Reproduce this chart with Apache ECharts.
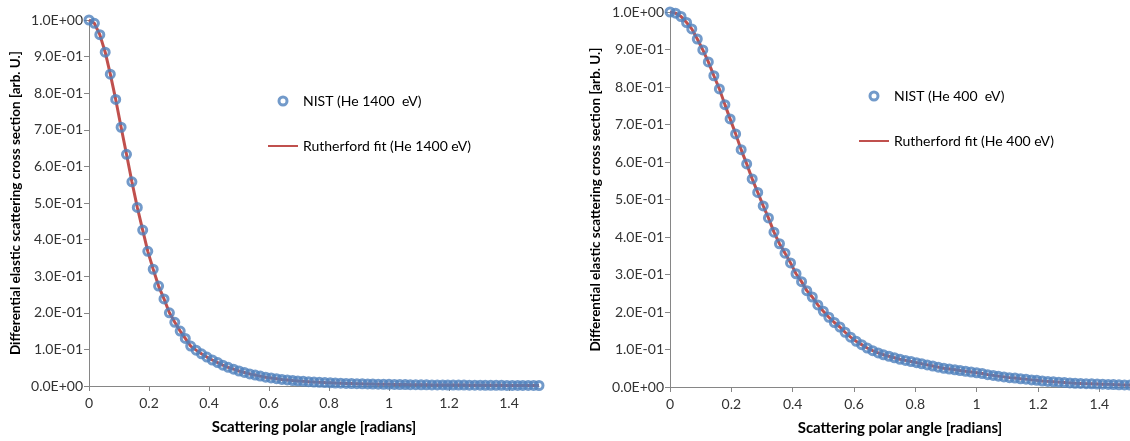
<!DOCTYPE html>
<html>
<head>
<meta charset="utf-8">
<script src="https://cdn.jsdelivr.net/npm/echarts@6/dist/echarts.min.js"></script>
<style>
html,body{margin:0;padding:0;background:#fff;}
#chart{width:1130px;height:441px;}
</style>
</head>
<body>
<div id="chart"></div>
<script>
// Scattering polar angle of each sample point [radians]
const angleRad = [0,0.018,0.036,0.054,0.071,0.089,0.107,0.125,0.143,0.161,0.179,0.196,0.214,0.232,
  0.25,0.268,0.286,0.304,0.321,0.339,0.357,0.375,0.393,0.411,0.429,0.446,0.464,0.482,
  0.5,0.518,0.536,0.554,0.571,0.589,0.607,0.625,0.643,0.661,0.679,0.696,0.714,0.732,
  0.75,0.768,0.786,0.804,0.821,0.839,0.857,0.875,0.893,0.911,0.929,0.946,0.964,0.982,
  1.0,1.018,1.036,1.054,1.071,1.089,1.107,1.125,1.143,1.161,1.179,1.196,1.214,1.232,
  1.25,1.268,1.286,1.304,1.321,1.339,1.357,1.375,1.393,1.411,1.429,1.446,1.464,1.482,1.5];

// He 1400 eV (left chart)
const nist1400 = [1.000,0.991,0.960,0.912,0.852,0.783,0.707,0.633,0.558,0.488,0.426,0.368,0.319,0.273,0.238,0.200,0.174,0.150,0.130,0.109,
  0.098,0.088,0.079,0.071,0.064,0.057,0.051,0.046,0.041,0.037,0.033,0.030,0.027,0.024,0.022,0.020,0.018,0.0165,
  0.015,0.0138,0.0127,0.0117,0.0108,
  0.010,0.0093,0.0087,0.0081,0.0076,0.0071,0.0067,0.0063,0.0059,0.0056,
  0.0053,0.0050,0.0047,0.0045,0.0043,0.0041,0.0039,0.0037,0.0035,0.0033,
  0.0032,0.0030,0.0029,0.0028,0.0027,0.0026,0.0025,0.0024,0.0023,0.0022,
  0.0021,0.0020,0.0019,0.0019,0.0018,0.0017,0.0017,0.0016,0.0016,0.0015,0.0015,0.0014];
const fit1400 = nist1400.slice(); // fit curve coincides with the data

// He 400 eV (right chart)
const nist400 = [1.000,0.997,0.988,0.972,0.955,0.928,0.899,0.867,0.830,0.795,0.753,0.715,0.675,0.633,0.595,0.555,0.519,0.483,0.451,
  0.413,0.382,0.357,0.331,0.302,0.281,0.257,0.240,0.219,0.202,0.186,0.172,0.160,0.146,0.133,0.122,
  0.113,0.104,0.097,0.091,0.086,0.082,0.078,0.074,0.071,0.068,0.065,
  0.062,0.059,0.056,0.053,0.050,0.048,0.046,0.044,0.042,0.040,
  0.038,0.036,0.033,0.031,0.029,0.027,0.025,0.024,0.022,0.021,
  0.019,0.018,0.016,0.015,0.014,0.013,0.012,0.011,0.010,0.0095,
  0.009,0.0085,0.008,0.0075,0.007,0.0065,0.006,0.0055,0.0052];
const fit400 = nist400.slice();

const xTicks = [0,0.2,0.4,0.6,0.8,1.0,1.2,1.4];

const legendLeft = ['NIST (He 1400  eV)','Rutherford fit (He 1400 eV)'];
const legendRight = ['NIST (He 400  eV)','Rutherford fit (He 400 eV)'];

const xTitle = 'Scattering polar angle [radians]';
const yTitle = 'Differential elastic scattering cross section [arb. U.]';

const FONT = 'Lato';
const BLUE = '#4F81BD', RED = '#C0504D';
const HOLLOW = {color:'rgba(0,0,0,0)', borderColor:BLUE, borderWidth:3};

function sci(v){
  if (Math.abs(v) < 1e-12) return '0.0E+00';
  let e = Math.floor(Math.log10(v) + 1e-9);
  let m = Math.round(v / Math.pow(10, e) * 10) / 10;
  if (m >= 10) { m = m / 10; e += 1; }
  return m.toFixed(1) + 'E' + (e < 0 ? '-' : '+') + String(Math.abs(e)).padStart(2, '0');
}
function pts(ys){ return ys.map((y,i)=>[angleRad[i], y]); }

function xAxis(gi){
  return {
    type:'value', gridIndex:gi, min:0, max:1.5, interval:0.2,
    name:xTitle, nameLocation:'middle', nameGap:34,
    nameTextStyle:{fontFamily:FONT, fontWeight:'bold', fontSize:15, color:'#000'},
    axisLine:{show:true, onZero:false, lineStyle:{color:'#868686', width:1}},
    axisTick:{show:true, length:5, lineStyle:{color:'#868686'}, customValues:xTicks},
    axisLabel:{fontFamily:FONT, fontSize:14, color:'#333', margin:10, customValues:xTicks,
      formatter:v=>String(+(+v).toFixed(1))},
    splitLine:{show:false}
  };
}
function yAxis(gi, gap){
  return {
    type:'value', gridIndex:gi, min:0, max:1, interval:0.1,
    name:yTitle, nameLocation:'middle', nameGap:gap, nameRotate:90,
    nameTextStyle:{fontFamily:FONT, fontWeight:'bold', fontSize:13.5, color:'#000'},
    axisLine:{show:true, lineStyle:{color:'#868686', width:1}},
    axisTick:{show:true, length:5, lineStyle:{color:'#868686'}},
    axisLabel:{fontFamily:FONT, fontSize:14, color:'#333', margin:6, formatter:v=>sci(v)},
    splitLine:{show:false}
  };
}
function lineSeries(name, gi, ys){
  return {name, type:'line', xAxisIndex:gi, yAxisIndex:gi, data:pts(ys),
    symbol:'none', showSymbol:false, clip:false, smooth:false,
    lineStyle:{color:RED, width:3}, itemStyle:{color:RED}, z:2, animation:false};
}
function scatterSeries(name, gi, ys){
  return {name, type:'scatter', xAxisIndex:gi, yAxisIndex:gi, data:pts(ys),
    symbol:'circle', symbolSize:8, clip:false,
    itemStyle:HOLLOW, z:3, animation:false};
}
function legend(names, left, top){
  return {
    data:[{name:names[0], icon:'circle', itemStyle:HOLLOW},
          {name:names[1], itemStyle:{opacity:0}}],
    orient:'vertical', left, top, padding:0, itemWidth:30, itemHeight:8, itemGap:31,
    textStyle:{fontFamily:FONT, fontSize:14, color:'#000'}, selectedMode:false
  };
}

const chart = echarts.init(document.getElementById('chart'), null, {renderer:'canvas'});
chart.setOption({
  animation:false,
  backgroundColor:'#fff',
  grid:[
    {left:89, top:20, width:450, height:366},
    {left:670, top:12, width:465, height:375}
  ],
  xAxis:[xAxis(0), xAxis(1)],
  yAxis:[yAxis(0, 66), yAxis(1, 67)],
  legend:[legend(legendLeft, 267, 94), legend(legendRight, 858, 89)],
  series:[
    lineSeries(legendLeft[1], 0, fit1400),
    scatterSeries(legendLeft[0], 0, nist1400),
    lineSeries(legendRight[1], 1, fit400),
    scatterSeries(legendRight[0], 1, nist400)
  ]
});
</script>
</body>
</html>
